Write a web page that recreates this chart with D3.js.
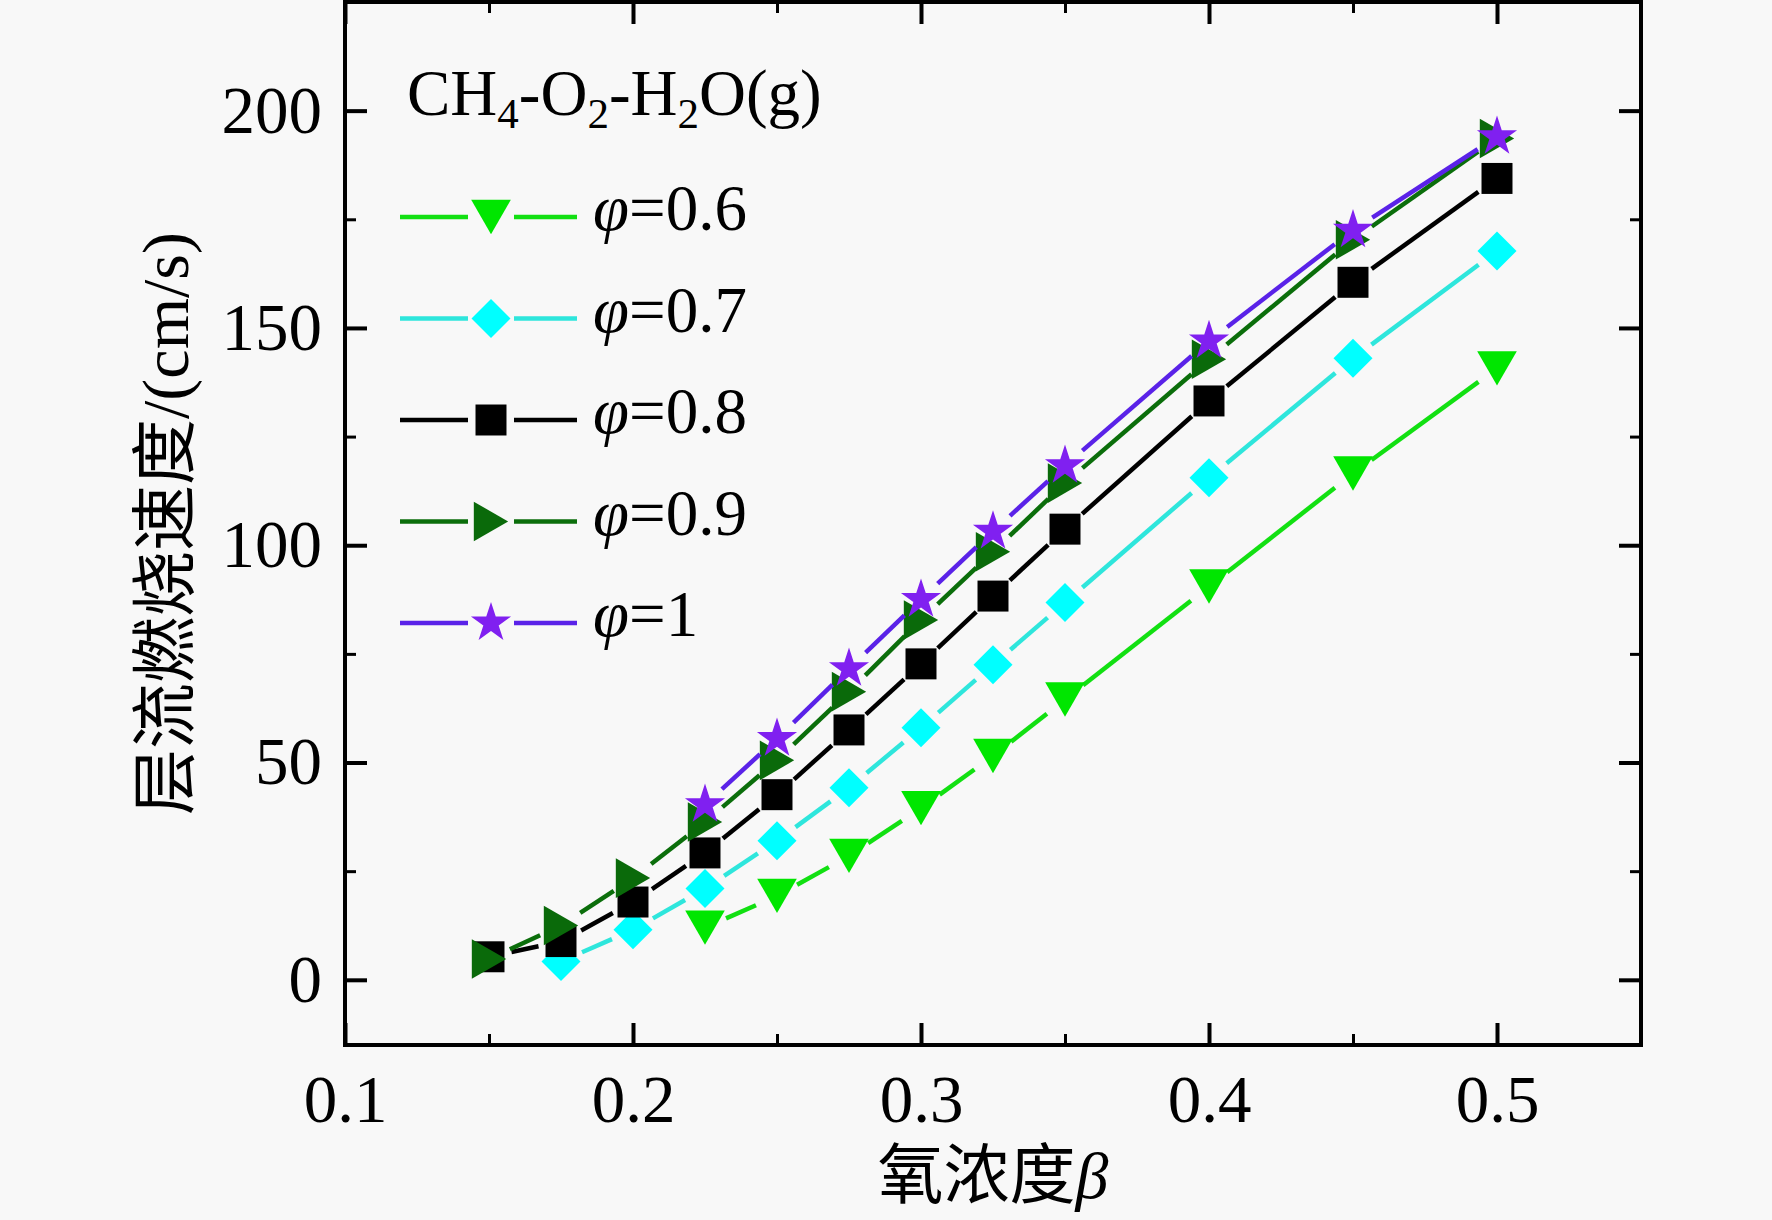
<!DOCTYPE html>
<html>
<head>
<meta charset="utf-8">
<script src="https://cdn.jsdelivr.net/npm/d3@7"></script>
<style>
  html, body { margin: 0; padding: 0; background: #f8f8f8; }
  svg { display: block; }
  text { font-family: "Liberation Serif", "Times New Roman", "Noto Sans CJK SC", serif; fill: #000; }
</style>
</head>
<body>
<script>
// oxygen concentration (beta) values on the x axis
const beta = [0.15, 0.175, 0.2, 0.225, 0.25, 0.275, 0.3, 0.325, 0.35, 0.4, 0.45, 0.5];

// laminar burning velocity (cm/s) for each equivalence ratio
const phi06 = [12, 19.3, 28.5, 39.5, 51.5, 64.5, 90.5, 116.5, 140.7];          // from 0.225
const phi07 = [4.2, 11.5, 21, 32, 44.2, 58, 72.5, 86.8, 115.5, 143, 167.7];    // from 0.175
const phi08 = [5.3, 8.8, 17.9, 29.2, 42.6, 57.5, 72.7, 88.3, 103.7, 133.2, 160.5, 184.4];
const phi09 = [4.8, 12.5, 23.4, 36.3, 50.5, 66.3, 82.8, 98.5, 114.3, 142.8, 170.3, 193.6];
const phi10 = [40.3, 55.5, 71.6, 87.5, 103.2, 118.3, 147, 172.5, 194];         // from 0.225

const seriesNames = ['0.6', '0.7', '0.8', '0.9', '1'];
const seriesValues = [phi06, phi07, phi08, phi09, phi10];

const xTicks = [0.1, 0.2, 0.3, 0.4, 0.5];
const xMinor = [0.15, 0.25, 0.35, 0.45, 0.55];
const yTicks = [0, 50, 100, 150, 200];
const yMinor = [25, 75, 125, 175];

const W = 1772, H = 1220;
const pLeft = 345, pRight = 1641, pTop = 2, pBottom = 1045;

const svg = d3.select('body').append('svg').attr('width', W).attr('height', H);

const x = d3.scaleLinear().domain([0.1, 0.55]).range([pLeft, pRight]);
const y = d3.scaleLinear().domain([-15, 225]).range([pBottom, pTop]);

// custom marker shapes, centred on their bounding box like Origin does
const triDown = {
  draw(ctx, size) {
    const s = Math.sqrt(size * 4 / Math.sqrt(3)), h = s * Math.sqrt(3) / 2;
    ctx.moveTo(-s / 2, -h / 2); ctx.lineTo(s / 2, -h / 2); ctx.lineTo(0, h / 2); ctx.closePath();
  }
};
const triRight = {
  draw(ctx, size) {
    const s = Math.sqrt(size * 4 / Math.sqrt(3)), h = s * Math.sqrt(3) / 2;
    ctx.moveTo(-h / 2, -s / 2); ctx.lineTo(h / 2, 0); ctx.lineTo(-h / 2, s / 2); ctx.closePath();
  }
};
const diamond = {
  draw(ctx, size) {
    const r = Math.sqrt(size / 2);
    ctx.moveTo(0, -r); ctx.lineTo(r, 0); ctx.lineTo(0, r); ctx.lineTo(-r, 0); ctx.closePath();
  }
};

const styles = [
  { line: '#12e012', fill: '#00e600', shape: triDown, size: 680 },
  { line: '#2ee6dc', fill: '#00ffff', shape: diamond, size: 760 },
  { line: '#000000', fill: '#000000', shape: d3.symbolSquare, size: 960 },
  { line: '#0b6e0b', fill: '#0a6a0a', shape: triRight, size: 680 },
  { line: '#5a22e8', fill: '#8020f0', shape: d3.symbolStar, size: 500 }
];

const GAP = 23; // line stops short of the marker

// frame
svg.append('rect')
  .attr('x', pLeft).attr('y', pTop)
  .attr('width', pRight - pLeft).attr('height', pBottom - pTop)
  .attr('fill', 'none').attr('stroke', '#000').attr('stroke-width', 4);

function styleAxis(g, w) {
  g.select('.domain').remove();
  g.selectAll('line').attr('stroke', '#000').attr('stroke-width', w);
  g.selectAll('text').attr('font-size', 67).attr('font-family', null);
}

svg.append('g').attr('transform', `translate(0,${pBottom})`)
  .call(d3.axisBottom(x).tickValues(xTicks).tickSize(-22).tickPadding(29).tickFormat(d3.format('.1f')))
  .call(g => styleAxis(g, 4));
svg.append('g').attr('transform', `translate(0,${pBottom})`)
  .call(d3.axisBottom(x).tickValues(xMinor).tickSize(-11).tickFormat(''))
  .call(g => styleAxis(g, 3));
svg.append('g').attr('transform', `translate(0,${pTop})`)
  .call(d3.axisTop(x).tickValues(xTicks).tickSize(-22).tickFormat(''))
  .call(g => styleAxis(g, 4));
svg.append('g').attr('transform', `translate(0,${pTop})`)
  .call(d3.axisTop(x).tickValues(xMinor).tickSize(-11).tickFormat(''))
  .call(g => styleAxis(g, 3));

svg.append('g').attr('transform', `translate(${pLeft},0)`)
  .call(d3.axisLeft(y).tickValues(yTicks).tickSize(-22).tickPadding(23))
  .call(g => styleAxis(g, 4));
svg.append('g').attr('transform', `translate(${pLeft},0)`)
  .call(d3.axisLeft(y).tickValues(yMinor).tickSize(-11).tickFormat(''))
  .call(g => styleAxis(g, 3));
svg.append('g').attr('transform', `translate(${pRight},0)`)
  .call(d3.axisRight(y).tickValues(yTicks).tickSize(-22).tickFormat(''))
  .call(g => styleAxis(g, 4));
svg.append('g').attr('transform', `translate(${pRight},0)`)
  .call(d3.axisRight(y).tickValues(yMinor).tickSize(-11).tickFormat(''))
  .call(g => styleAxis(g, 3));

// axis titles
const xt = svg.append('text')
  .attr('x', (pLeft + pRight) / 2).attr('y', 1198)
  .attr('text-anchor', 'middle').attr('font-size', 66);
xt.append('tspan').text('氧浓度');
xt.append('tspan').attr('font-style', 'italic').text('β');

svg.append('text')
  .attr('transform', `translate(188,${(pTop + pBottom) / 2}) rotate(-90)`)
  .attr('text-anchor', 'middle').attr('font-size', 66)
  .text('层流燃烧速度/(cm/s)');

// data lines with gaps, then markers
const line = d3.line();
function gapSegments(pts) {
  const segs = [];
  for (let i = 0; i < pts.length - 1; i++) {
    const [x0, y0] = pts[i], [x1, y1] = pts[i + 1];
    const dx = x1 - x0, dy = y1 - y0, len = Math.hypot(dx, dy);
    if (len <= 2 * GAP) continue;
    const ux = dx / len, uy = dy / len;
    segs.push([[x0 + ux * GAP, y0 + uy * GAP], [x1 - ux * GAP, y1 - uy * GAP]]);
  }
  return segs;
}

seriesValues.forEach((vals, k) => {
  const st = styles[k];
  const xs = beta.slice(beta.length - vals.length);
  const pts = vals.map((v, i) => [x(xs[i]), y(v)]);
  const g = svg.append('g');
  g.selectAll('path.seg').data(gapSegments(pts)).join('path')
    .attr('class', 'seg').attr('d', line)
    .attr('fill', 'none').attr('stroke', st.line).attr('stroke-width', 4.5);
  g.selectAll('path.mk').data(pts).join('path')
    .attr('class', 'mk')
    .attr('transform', d => `translate(${d[0]},${d[1]})`)
    .attr('d', d3.symbol(st.shape, st.size))
    .attr('fill', st.fill);
});

// legend
const lg = svg.append('g');
const title = lg.append('text').attr('x', 407).attr('y', 115).attr('font-size', 65);
title.append('tspan').text('CH');
title.append('tspan').attr('font-size', 43).attr('dy', 13).text('4');
title.append('tspan').attr('dy', -13).text('-O');
title.append('tspan').attr('font-size', 43).attr('dy', 13).text('2');
title.append('tspan').attr('dy', -13).text('-H');
title.append('tspan').attr('font-size', 43).attr('dy', 13).text('2');
title.append('tspan').attr('dy', -13).text('O(g)');

const legY = d3.scalePoint().domain(seriesNames).range([217, 623]);
seriesNames.forEach((name, k) => {
  const st = styles[k];
  const cy = legY(name);
  lg.append('path').attr('d', line([[400, cy], [491 - GAP, cy]]))
    .attr('stroke', st.line).attr('stroke-width', 4.5);
  lg.append('path').attr('d', line([[491 + GAP, cy], [577, cy]]))
    .attr('stroke', st.line).attr('stroke-width', 4.5);
  lg.append('path').attr('transform', `translate(491,${cy})`)
    .attr('d', d3.symbol(st.shape, st.size)).attr('fill', st.fill);
  const t = lg.append('text').attr('x', 593).attr('y', cy + 13).attr('font-size', 65);
  t.append('tspan').attr('font-style', 'italic').text('φ');
  t.append('tspan').text('=' + name);
});
</script>
</body>
</html>
